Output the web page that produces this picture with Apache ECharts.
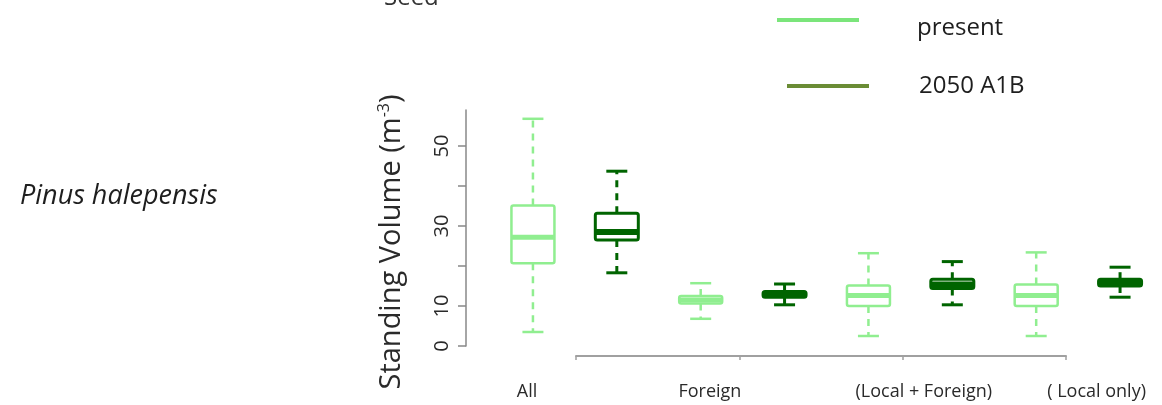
<!DOCTYPE html>
<html>
<head>
<meta charset="utf-8">
<script src="https://cdn.jsdelivr.net/npm/echarts@6/dist/echarts.min.js"></script>
<style>
html, body { margin: 0; padding: 0; background: #fff; }
#chart { width: 1162px; height: 405px; }
</style>
</head>
<body>
<div id="chart"></div>
<script>
// 8 box slots: present / 2050 for each group
const slots = [
  "All present", "All 2050",
  "Foreign present", "Foreign 2050",
  "Local+Foreign present", "Local+Foreign 2050",
  "Local only present", "Local only 2050",
];
const groupLabels = ["All", "Foreign", "(Local + Foreign)", "( Local only)"];
// [low whisker, q1, median, q3, high whisker]
const presentStats = [
  [3.5, 20.7, 27.2, 35.1, 56.8],
  [6.8, 10.6, 11.5, 12.5, 15.7],
  [2.5, 10.0, 12.6, 15.1, 23.2],
  [2.5, 10.0, 12.6, 15.4, 23.4],
];
const futureStats = [
  [18.3, 26.5, 28.5, 33.2, 43.7],
  [10.3, 12.2, 12.9, 13.6, 15.5],
  [10.3, 14.4, 15.4, 16.7, 21.1],
  [12.2, 15.0, 15.8, 16.7, 19.7],
];
const yTickValues = [0, 10, 20, 30, 40, 50];
const yLabelValues = [0, 10, 30, 50];
// where the group labels sit, in slot units (0..8)
const labelAt = [0.43, 2.61, 5.16, 7.22];

const FONT = '"Open Sans", "Liberation Sans", sans-serif';
const LIGHT = "#90ee90";
const DARK = "#006400";
const INK = "#1e1e1e";

const chart = echarts.init(document.getElementById("chart"));

function boxRenderer(color, lw, medW) {
  return function (params, api) {
    const x = api.value(0);
    const lo = api.coord([x, api.value(1)]);
    const q1 = api.coord([x, api.value(2)]);
    const med = api.coord([x, api.value(3)]);
    const q3 = api.coord([x, api.value(4)]);
    const hi = api.coord([x, api.value(5)]);
    const cx = lo[0];
    const half = 21.5;
    const cap = 10.5;
    const dashed = { stroke: color, lineWidth: lw, lineDash: [7, 6] };
    const solid = { stroke: color, lineWidth: lw };
    return {
      type: "group",
      children: [
        { type: "line", shape: { x1: cx, y1: q1[1], x2: cx, y2: lo[1] }, style: dashed },
        { type: "line", shape: { x1: cx, y1: q3[1], x2: cx, y2: hi[1] }, style: dashed },
        { type: "line", shape: { x1: cx - cap, y1: lo[1], x2: cx + cap, y2: lo[1] }, style: solid },
        { type: "line", shape: { x1: cx - cap, y1: hi[1], x2: cx + cap, y2: hi[1] }, style: solid },
        {
          type: "rect",
          shape: { x: cx - half, y: q3[1], width: half * 2, height: q1[1] - q3[1], r: 2 },
          style: { fill: "#fff", stroke: color, lineWidth: lw },
        },
        {
          type: "line",
          shape: { x1: cx - half, y1: med[1], x2: cx + half, y2: med[1] },
          style: { stroke: color, lineWidth: medW },
        },
      ],
    };
  };
}

const legendBase = {
  orient: "horizontal",
  padding: 0,
  icon: "rect",
  itemWidth: 82,
  itemHeight: 4,
  selectedMode: false,
  formatter: (name) => `{t|${name}}`,
};

const option = {
  backgroundColor: "#fff",
  animation: false,
  legend: [
    {
      ...legendBase,
      left: 777,
      top: 0,
      data: [{ name: "present", itemStyle: { color: "#7be57b" } }],
      textStyle: {
        rich: { t: { fontSize: 24, fontFamily: FONT, color: INK, lineHeight: 26, padding: [16, 0, 0, 53] } },
      },
    },
    {
      ...legendBase,
      left: 787,
      top: 74,
      data: [{ name: "2050 A1B", itemStyle: { color: "#6a8c35" } }],
      textStyle: {
        rich: { t: { fontSize: 24, fontFamily: FONT, color: INK, lineHeight: 26, padding: [0, 0, 0, 45] } },
      },
    },
  ],
  graphic: [
    {
      type: "text",
      x: 20,
      y: 183,
      style: { text: "Pinus halepensis", font: "italic 27px " + FONT, fill: INK },
    },
    {
      type: "text",
      x: 384,
      y: -14,
      style: { text: "Seed", font: "24px " + FONT, fill: "#333" },
    },
  ],
  grid: [
    { left: 491, right: -3, top: 110, bottom: 59 },
    { left: 576, right: 96, top: 110, bottom: 49 },
    { left: 491, right: -3, top: 110, bottom: 49 },
  ],
  xAxis: [
    {
      gridIndex: 0,
      type: "category",
      data: slots,
      show: false,
    },
    {
      gridIndex: 1,
      type: "value",
      min: 0,
      max: 3,
      interval: 1,
      axisLine: { show: true, lineStyle: { color: "#a0a0a0", width: 2 } },
      axisTick: { show: true, length: 4, lineStyle: { color: "#a0a0a0", width: 1.5 } },
      axisLabel: { show: false },
      splitLine: { show: false },
    },
    {
      gridIndex: 2,
      type: "value",
      min: 0,
      max: 8,
      axisLine: { show: false },
      axisTick: { show: false },
      splitLine: { show: false },
      axisLabel: {
        customValues: labelAt,
        margin: 27,
        fontSize: 18,
        fontFamily: FONT,
        color: "#2a2a2a",
        formatter: (v) => {
          let best = 0;
          labelAt.forEach((p, i) => {
            if (Math.abs(p - v) < Math.abs(labelAt[best] - v)) best = i;
          });
          return groupLabels[best];
        },
      },
    },
  ],
  yAxis: [
    {
      gridIndex: 0,
      type: "value",
      min: 0,
      max: 59,
      offset: 25,
      axisLine: { show: true, lineStyle: { color: "#888", width: 1.5 } },
      axisTick: {
        show: true,
        length: 8,
        customValues: yTickValues,
        lineStyle: { color: "#888", width: 1.5 },
      },
      axisLabel: {
        customValues: yLabelValues,
        rotate: 90,
        margin: 14,
        fontSize: 20,
        fontFamily: FONT,
        color: "#2a2a2a",
      },
      splitLine: { show: false },
      name: "{a|Standing Volume (m}{s|-3}{a|)}",
      nameLocation: "middle",
      nameRotate: 90,
      nameGap: 58,
      nameTextStyle: {
        padding: [0, 28, 0, 0],
        rich: {
          a: { fontSize: 29, fontFamily: FONT, color: "#2a2a2a", lineHeight: 32 },
          s: { fontSize: 16, fontFamily: FONT, color: "#2a2a2a", verticalAlign: "top", lineHeight: 32 },
        },
      },
    },
    { gridIndex: 1, type: "value", show: false },
    { gridIndex: 2, type: "value", show: false },
  ],
  series: [
    {
      name: "present",
      type: "custom",
      xAxisIndex: 0,
      yAxisIndex: 0,
      itemStyle: { color: LIGHT },
      encode: { x: 0, y: [1, 2, 3, 4, 5] },
      data: presentStats.map((s, i) => [slots[i * 2], ...s]),
      renderItem: boxRenderer(LIGHT, 2.5, 5),
    },
    {
      name: "2050 A1B",
      type: "custom",
      xAxisIndex: 0,
      yAxisIndex: 0,
      itemStyle: { color: DARK },
      encode: { x: 0, y: [1, 2, 3, 4, 5] },
      data: futureStats.map((s, i) => [slots[i * 2 + 1], ...s]),
      renderItem: boxRenderer(DARK, 3, 6),
    },
  ],
};

chart.setOption(option);
</script>
</body>
</html>
